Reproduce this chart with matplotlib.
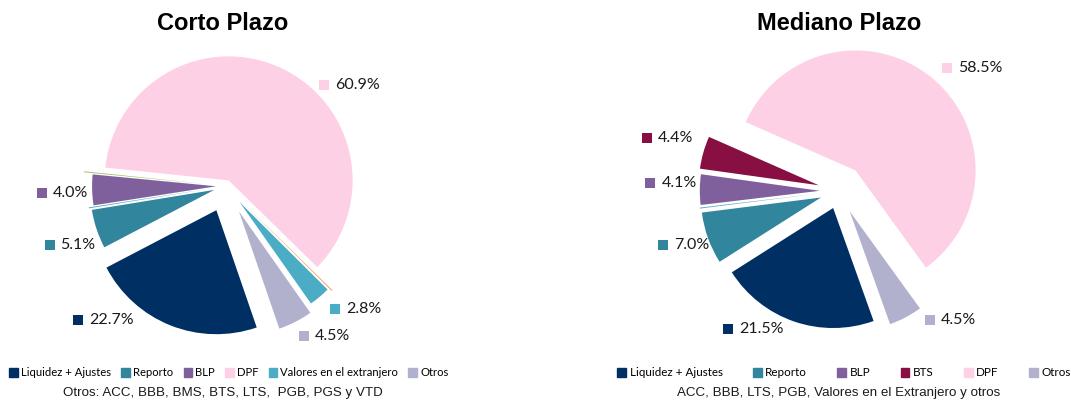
import numpy as np
import matplotlib.pyplot as plt
from matplotlib.patches import Patch

# ---- data ----
corto_cats = ["Liquidez + Ajustes", "Reporto", "_menor1", "BLP", "_menor2", "DPF", "_menor3",
              "Valores en el extranjero", "Otros"]
corto_vals = [22.7, 5.1, 0.12, 4.0, 0.12, 60.9, 0.12, 2.8, 4.5]
corto_labels = ["22.7%", "5.1%", "", "4.0%", "", "60.9%", "", "2.8%", "4.5%"]

mediano_cats = ["Liquidez + Ajustes", "Reporto", "_menor1", "BLP", "BTS", "DPF", "Otros"]
mediano_vals = [21.5, 7.0, 0.12, 4.1, 4.4, 58.5, 4.5]
mediano_labels = ["21.5%", "7.0%", "", "4.1%", "4.4%", "58.5%", "4.5%"]

corto_legend = ["Liquidez + Ajustes", "Reporto", "BLP", "DPF", "Valores en el extranjero", "Otros"]
mediano_legend = ["Liquidez + Ajustes", "Reporto", "BLP", "BTS", "DPF", "Otros"]

nota_corto = "Otros: ACC, BBB, BMS, BTS, LTS,  PGB, PGS y VTD"
nota_mediano = "ACC, BBB, LTS, PGB, Valores en el Extranjero y otros"

# ---- style ----
colores = {
    "Liquidez + Ajustes": "#003063",
    "Reporto": "#31859C",
    "BLP": "#7F609D",
    "BTS": "#870F42",
    "DPF": "#FDD0E6",
    "Valores en el extranjero": "#4BACC6",
    "Otros": "#B2B1CD",
    "_menor1": "#4BACC6",
    "_menor2": "#9BBB59",
    "_menor3": "#F79646",
}
lbl_font = "Lato"

# explode (fraction of radius) and label anchor (radius units), per slice
corto_explode = [0.21, 0.10, 0.12, 0.08, 0.15, 0.05, 0.20, 0.17, 0.23]
corto_lblpos = [(-1.194, -1.077), (-1.423, -0.472), None, (-1.484, -0.060), None,
                (0.794, 0.815), None, (0.879, -0.988), (0.629, -1.210)]
mediano_explode = [0.15, 0.16, 0.17, 0.16, 0.175, 0.22, 0.19]
mediano_lblpos = [(-0.925, -1.15), (-1.467, -0.454), None, (-1.571, 0.067), (-1.60, 0.44),
                  (0.897, 1.027), (0.758, -1.075)]

W, H = 1071, 400
fig = plt.figure(figsize=(W / 100, H / 100), dpi=100)


def pie_axes(cx, cy, r, x0, x1, ytop, ybot):
    # axes in pixel box, data units = pie radius
    ax = fig.add_axes([x0 / W, 1 - ybot / H, (x1 - x0) / W, (ybot - ytop) / H])
    lims = ((x0 - cx) / r, (x1 - cx) / r), ((cy - ybot) / r, (cy - ytop) / r)
    return ax, lims


def draw_pie(ax, lims, cats, vals, labels, explode, lblpos, start, r):
    cols = [colores[c] for c in cats]
    ax.pie(vals, colors=cols, explode=explode, startangle=start, counterclock=False,
           radius=1.0, wedgeprops=dict(linewidth=0))
    for lab, pos, c in zip(labels, lblpos, cols):
        if not lab:
            continue
        ax.plot(pos[0], pos[1], marker="s", ms=6.8, color=c, mew=0, linestyle="none")
        ax.text(pos[0] + 11 / r, pos[1], lab, ha="left", va="center",
                fontsize=11.5, family=lbl_font, color="#1a1a1a")
    ax.set_aspect("auto")
    ax.set_xlim(*lims[0])
    ax.set_ylim(*lims[1])
    ax.axis("off")


r1 = 124
ax1, lim1 = pie_axes(226, 186, r1, 0, 460, 45, 355)
draw_pie(ax1, lim1, corto_cats, corto_vals, corto_labels, corto_explode, corto_lblpos, -71, r1)

r2 = 120
ax2, lim2 = pie_axes(839, 191, r2, 600, 1071, 45, 355)
draw_pie(ax2, lim2, mediano_cats, mediano_vals, mediano_labels, mediano_explode, mediano_lblpos, -70.3, r2)

# titles
fig.text(223 / W, 1 - 23 / H, "Corto Plazo", ha="center", va="center",
         fontsize=17, fontweight="bold", family="Liberation Sans")
fig.text(839 / W, 1 - 23 / H, "Mediano Plazo", ha="center", va="center",
         fontsize=17, fontweight="bold", family="Liberation Sans")

# legends
h1 = [Patch(color=colores[c]) for c in corto_legend]
fig.legend(h1, corto_legend, loc="center", bbox_to_anchor=(229 / W, 1 - 373 / H), ncol=6,
           frameon=False, handlelength=0.75, handleheight=0.75, handletextpad=0.3,
           columnspacing=0.9, borderpad=0, prop=dict(family=lbl_font, size=8.1))
h2 = [Patch(color=colores[c]) for c in mediano_legend]
fig.legend(h2, mediano_legend, loc="center", bbox_to_anchor=(844 / W, 1 - 373 / H), ncol=6,
           frameon=False, handlelength=0.75, handleheight=0.75, handletextpad=0.3,
           columnspacing=2.6, borderpad=0, prop=dict(family=lbl_font, size=8.4))

# footnotes
fig.text(223 / W, 1 - 393 / H, nota_corto, ha="center", va="center",
         fontsize=9.6, family="Liberation Sans", color="#1a1a1a")
fig.text(839 / W, 1 - 393 / H, nota_mediano, ha="center", va="center",
         fontsize=9.6, family="Liberation Sans", color="#1a1a1a")

fig.savefig("out.png", dpi=100)
